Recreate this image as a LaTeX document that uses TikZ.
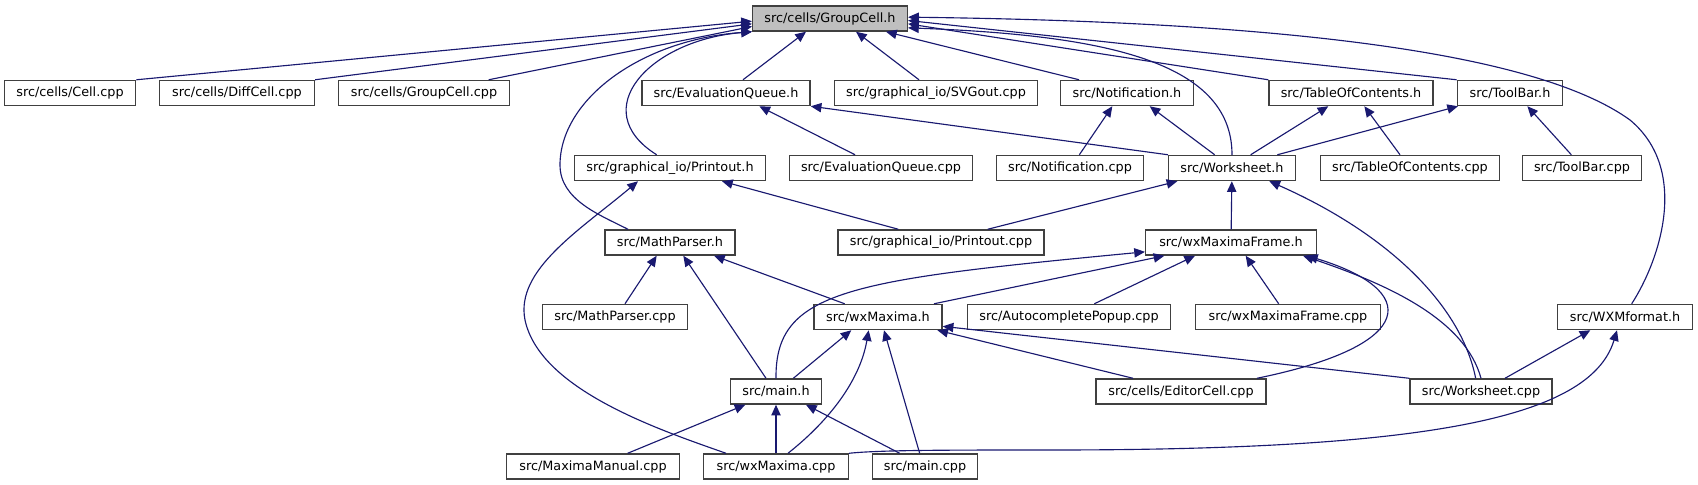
\documentclass[tikz,border=0pt]{standalone}
\usepackage{fontspec}
\setmainfont{DejaVu Sans}
\usetikzlibrary{arrows.meta}
\definecolor{edgeblue}{HTML}{191970}
\definecolor{boxline}{HTML}{404040}
\definecolor{rootfill}{HTML}{BFBFBF}

\begin{document}
\begin{tikzpicture}[x=0.75pt,y=-0.75pt,
  file/.style={draw=boxline,line width=1.1pt,fill=white,inner xsep=6pt,inner ysep=0pt,
    minimum height=18.75pt,font=\fontsize{9.6}{11}\selectfont},
  incl/.style={draw=edgeblue,line width=0.85pt,{Triangle[length=8pt,width=7pt]}-}]
  \useasboundingbox (0,0) rectangle (1698,485);
  % files
  \node[file,fill=rootfill,minimum width=116pt] (gch) at (830,18.5) {src/cells/GroupCell.h};
  \node[file,minimum width=98.5pt] (cellcpp) at (70,93) {src/cells/Cell.cpp};
  \node[file,minimum width=116pt] (diffcpp) at (237,93) {src/cells/DiffCell.cpp};
  \node[file,minimum width=128pt] (gcellcpp) at (424,93) {src/cells/GroupCell.cpp};
  \node[file,minimum width=126pt] (evqh) at (726,93) {src/EvaluationQueue.h};
  \node[file,minimum width=152.5pt] (svgcpp) at (936,93) {src/graphical\_io/SVGout.cpp};
  \node[file,minimum width=99.5pt] (notih) at (1127,93) {src/Notification.h};
  \node[file,minimum width=123pt] (tocch) at (1351,93) {src/TableOfContents.h};
  \node[file,minimum width=79pt] (toolh) at (1510,93) {src/ToolBar.h};
  \node[file,minimum width=143pt] (printh) at (670,168) {src/graphical\_io/Printout.h};
  \node[file,minimum width=137pt] (evqcpp) at (881,168) {src/EvaluationQueue.cpp};
  \node[file,minimum width=110pt] (noticpp) at (1070,168) {src/Notification.cpp};
  \node[file,minimum width=95pt] (wsh) at (1232,168) {src/Worksheet.h};
  \node[file,minimum width=134pt] (toccpp) at (1410,168) {src/TableOfContents.cpp};
  \node[file,minimum width=89pt] (toolcpp) at (1582,168) {src/ToolBar.cpp};
  \node[file,minimum width=97.5pt] (mathh) at (670,242.5) {src/MathParser.h};
  \node[file,minimum width=154.5pt] (printcpp) at (941,242.5) {src/graphical\_io/Printout.cpp};
  \node[file,minimum width=128pt] (frameh) at (1231,242.5) {src/wxMaximaFrame.h};
  \node[file,minimum width=109pt] (mathcpp) at (615,317) {src/MathParser.cpp};
  \node[file,minimum width=96pt] (wxmh) at (878,317) {src/wxMaxima.h};
  \node[file,minimum width=152pt] (autocpp) at (1069,317) {src/AutocompletePopup.cpp};
  \node[file,minimum width=139pt] (framecpp) at (1288,317) {src/wxMaximaFrame.cpp};
  \node[file,minimum width=101pt] (wxmfh) at (1625,317) {src/WXMformat.h};
  \node[file,minimum width=68.5pt] (mainh) at (776,391.5) {src/main.h};
  \node[file,minimum width=127.5pt] (editcpp) at (1181,391.5) {src/cells/EditorCell.cpp};
  \node[file,minimum width=106.5pt] (wscpp) at (1481,391.5) {src/Worksheet.cpp};
  \node[file,minimum width=130pt] (manualcpp) at (593,466.5) {src/MaximaManual.cpp};
  \node[file,minimum width=108.5pt] (wxmcpp) at (776,466.5) {src/wxMaxima.cpp};
  \node[file,minimum width=79pt] (maincpp) at (925,466.5) {src/main.cpp};
  % included by GroupCell.h
  \draw[incl] ([yshift=-2pt]gch.west) -- (cellcpp.north east);
  \draw[incl] ([yshift=-4pt]gch.west) -- (diffcpp.north east);
  \draw[incl] ([yshift=-6pt]gch.west) -- ([xshift=-16pt]gcellcpp.north east);
  \draw[incl] ([xshift=-18pt]gch.south) -- ([xshift=12.75pt]evqh.north);
  \draw[incl] ([xshift=19.5pt]gch.south) -- ([xshift=-12.75pt]svgcpp.north);
  \draw[incl] ([xshift=42pt]gch.south) -- ([xshift=-36pt]notih.north);
  \draw[incl] ([yshift=-4pt]gch.east) -- (tocch.north west);
  \draw[incl] ([yshift=-1.5pt]gch.east) -- (toolh.north west);
  \draw[incl] ([yshift=-7pt]gch.east) .. controls (1100,35) and (1232,60) .. (wsh.north);
  \draw[incl] ([yshift=1pt]gch.east) .. controls (1300,22) and (1540,55) .. (1630,120)
    .. controls (1690,170) and (1660,260) .. ([xshift=5pt]wxmfh.north);
  \draw[incl] (gch.south west) .. controls (650,40) and (585,110) .. ([xshift=-10pt]printh.north);
  \draw[incl] (gch.south west) .. controls (640,40) and (560,100) .. (560,165)
    .. controls (560,200) and (600,215) .. ([xshift=-31.5pt]mathh.north);
  % second level
  \draw[incl] ([xshift=25pt]evqh.south) -- ([xshift=-19.5pt]evqcpp.north);
  \draw[incl] (evqh.south east) -- (wsh.north west);
  \draw[incl] ([xshift=-11pt]notih.south) -- ([xshift=7pt]noticpp.north);
  \draw[incl] ([xshift=17pt]notih.south) -- ([xshift=-13pt]wsh.north);
  \draw[incl] ([xshift=-17pt]tocch.south) -- ([xshift=14pt]wsh.north);
  \draw[incl] ([xshift=10pt]tocch.south) -- ([xshift=-7.5pt]toccpp.north);
  \draw[incl] ([xshift=-39pt]toolh.south) -- ([xshift=34pt]wsh.north);
  \draw[incl] ([xshift=13pt]toolh.south) -- ([xshift=-8pt]toolcpp.north);
  \draw[incl] ([xshift=39pt]printh.south) -- ([xshift=-32pt]printcpp.north);
  \draw[incl] ([xshift=-24pt]printh.south) .. controls (580,230) and (515,270) .. (525,320)
    .. controls (540,390) and (660,430) .. ([xshift=-37.5pt]wxmcpp.north);
  \draw[incl] ([xshift=-41pt]wsh.south) -- ([xshift=35pt]printcpp.north);
  \draw[incl] (wsh) -- (frameh);
  \draw[incl] ([xshift=28pt]wsh.south) .. controls (1380,230) and (1460,300) .. ([xshift=-4pt]wscpp.north);
  % MathParser.h and wxMaximaFrame.h
  \draw[incl] ([xshift=-10pt]mathh.south) -- ([xshift=7.5pt]mathcpp.north);
  \draw[incl] ([xshift=10pt]mathh.south) -- ([xshift=-7.5pt]mainh.north);
  \draw[incl] ([xshift=33pt]mathh.south) -- ([xshift=-25pt]wxmh.north);
  \draw[incl] ([yshift=-7pt]frameh.west) .. controls (850,280) and (775,290) .. (mainh.north);
  \draw[incl] ([xshift=-50pt]frameh.south) -- ([xshift=42pt]wxmh.north);
  \draw[incl] ([xshift=-27pt]frameh.south) -- ([xshift=19pt]autocpp.north);
  \draw[incl] ([xshift=11pt]frameh.south) -- ([xshift=-7pt]framecpp.north);
  \draw[incl] ([xshift=57pt]frameh.south) .. controls (1420,290) and (1420,345) .. ([xshift=57pt]editcpp.north);
  \draw[incl] ([xshift=54pt]frameh.south) .. controls (1390,285) and (1465,320) .. (wscpp.north);
  % wxMaxima.h, WXMformat.h, main.h
  \draw[incl] ([xshift=-20pt]wxmh.south) -- ([xshift=13pt]mainh.north);
  \draw[incl] ([xshift=-7pt]wxmh.south) .. controls (860,380) and (830,420) .. ([xshift=9pt]wxmcpp.north);
  \draw[incl] ([xshift=4.5pt]wxmh.south) -- ([xshift=-4pt]maincpp.north);
  \draw[incl] ([xshift=-4pt]wxmh.south east) -- ([xshift=-36pt]editcpp.north);
  \draw[incl] ([yshift=-7pt]wxmh.east) -- (wscpp.north west);
  \draw[incl] ([xshift=-26pt]wxmfh.south) -- ([xshift=18pt]wscpp.north);
  \draw[incl] ([xshift=-6pt]wxmfh.south) .. controls (1590,420) and (1420,450) .. (1050,450)
    .. controls (950,450) and (880,450) .. (wxmcpp.north east);
  \draw[incl] ([xshift=-23pt]mainh.south) -- ([xshift=26pt]manualcpp.north);
  \draw[incl] (mainh) -- (wxmcpp);
  \draw[incl] ([xshift=22.5pt]mainh.south) -- ([xshift=-19pt]maincpp.north);
\end{tikzpicture}
\end{document}
